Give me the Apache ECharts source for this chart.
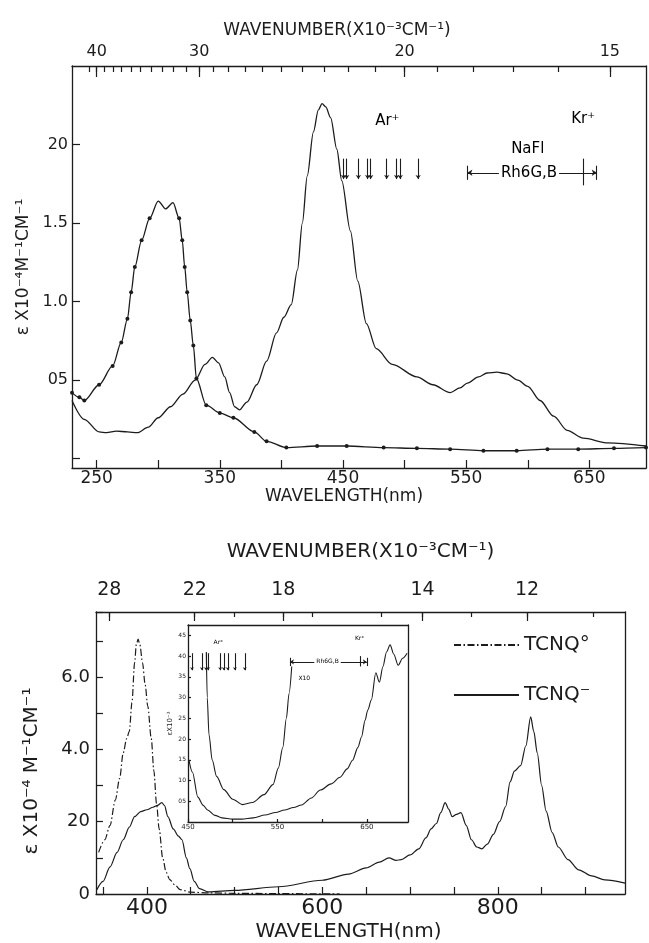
<!DOCTYPE html>
<html>
<head>
<meta charset="utf-8" />
<script src="https://cdn.jsdelivr.net/npm/echarts@6/dist/echarts.min.js"></script>
<style>
html, body { margin: 0; padding: 0; background: #fff; }
#chart { width: 649px; height: 943px; }
</style>
</head>
<body>
<div id="chart"></div>
<script>
// ---- upper panel (wavelength nm, epsilon x10^-4)
var topDotNm  = [230, 236, 240, 252, 263, 270, 275, 278, 281, 286.5, 293, 300, 306, 312, 317, 319.5, 321.5, 323.5, 326, 328.5, 331, 339, 350, 361, 378, 388, 404, 429, 453, 483, 510, 537, 564, 591, 616, 641, 670, 696];
var topDotVal = [0.42, 0.39, 0.37, 0.47, 0.59, 0.74, 0.89, 1.06, 1.22, 1.39, 1.53, 1.64, 1.59, 1.63, 1.53, 1.39, 1.22, 1.06, 0.88, 0.72, 0.51, 0.34, 0.29, 0.26, 0.17, 0.11, 0.07, 0.08, 0.08, 0.07, 0.065, 0.06, 0.05, 0.05, 0.06, 0.06, 0.065, 0.07];
var topSolidNm  = [230, 240, 252, 258, 266, 275, 283, 292, 300, 310, 320, 330, 338, 344, 349, 354, 358, 362, 366, 372, 380, 388, 396, 402, 408, 413, 417, 421, 426, 430, 433, 436, 440, 445, 449, 456, 462, 469, 477, 490, 510, 523, 537, 545, 551, 560, 567, 575, 583, 592, 600, 610, 621, 632, 645, 665, 696];
var topSolidVal = [0.37, 0.25, 0.17, 0.165, 0.175, 0.17, 0.165, 0.2, 0.26, 0.33, 0.41, 0.5, 0.6, 0.645, 0.61, 0.52, 0.42, 0.33, 0.31, 0.36, 0.47, 0.62, 0.8, 0.9, 0.98, 1.2, 1.5, 1.8, 2.08, 2.22, 2.26, 2.24, 2.17, 1.97, 1.77, 1.45, 1.13, 0.86, 0.7, 0.6, 0.52, 0.47, 0.42, 0.45, 0.48, 0.52, 0.545, 0.55, 0.54, 0.5, 0.46, 0.37, 0.27, 0.18, 0.13, 0.1, 0.08];
var topTickNm = [250, 300, 350, 400, 450, 500, 550, 600, 650];
var topLabelNm = [250, 350, 450, 550, 650];
var topYTicks = [0, 0.5, 1, 1.5, 2];
var topYLabelVals = [0.5, 1, 1.5, 2];
var topYLabelText = ['05', '1.0', '1.5', '20'];
var topWnMinor = [41, 40, 39, 38, 37, 36, 35, 34, 33, 32, 31, 30, 29, 28, 27, 26, 25, 24, 23, 22, 21, 20, 19, 18, 17, 16, 15];
var topWnMajor = [40, 30, 20, 15];
var topArNm = [450.5, 453, 462.5, 470, 472.5, 485.5, 493.5, 496.5, 511];
var topArY = [1.91, 1.78];
var topRh = [551, 656, 1.82];
var topKr = [645, 1.91, 1.74];
var topNotes = [[486, 2.15, 'Ar⁺'], [645, 2.16, 'Kr⁺'], [600, 1.97, 'NaFl'], [601, 1.82, 'Rh6G,B']];

// ---- lower panel
var botNeutralNm  = [345, 352, 358, 364, 369, 373, 377, 380, 383, 386, 388, 390, 392, 395, 398, 401, 405, 408, 411, 414, 418, 422, 426, 432, 438, 450, 470, 500, 550, 620];
var botNeutralVal = [1.15, 1.5, 1.9, 2.6, 3.2, 3.9, 4.3, 4.5, 5.3, 6.4, 6.9, 7.05, 6.9, 6.4, 5.8, 5.2, 4.3, 3.4, 2.5, 1.8, 1.0, 0.6, 0.4, 0.25, 0.12, 0.05, 0.03, 0.02, 0.01, 0.0];
var botAnionNm  = [343, 350, 358, 366, 373, 380, 386, 393, 400, 407, 412, 417, 420, 424, 430, 436, 440, 445, 449, 454, 460, 470, 500, 550, 600, 630, 650, 665, 676, 684, 690, 700, 710, 718, 724, 730, 735, 740, 744, 748, 753, 758, 764, 770, 776, 782, 788, 795, 802, 809, 814, 819, 826, 832, 837.5, 841, 845, 850, 855, 862, 869, 880, 892, 907, 922, 945];
var botAnionVal = [0.12, 0.35, 0.75, 1.15, 1.5, 1.85, 2.14, 2.28, 2.33, 2.4, 2.45, 2.53, 2.45, 2.14, 1.8, 1.6, 1.5, 1.0, 0.7, 0.35, 0.15, 0.06, 0.1, 0.2, 0.38, 0.55, 0.72, 0.88, 1.0, 0.93, 0.95, 1.08, 1.25, 1.55, 1.8, 1.95, 2.25, 2.53, 2.35, 2.14, 2.2, 2.25, 1.9, 1.5, 1.3, 1.25, 1.38, 1.65, 2.0, 2.42, 3.1, 3.4, 3.55, 4.1, 4.9, 4.5, 3.9, 3.0, 2.3, 1.7, 1.3, 0.95, 0.67, 0.5, 0.39, 0.3];
var botTickNm = [350, 400, 450, 500, 550, 600, 650, 700, 750, 800, 850, 900];
var botLabelNm = [400, 600, 800];
var botYLabelVals = [0, 2, 4, 6];
var botYLabelText = ['0', '20', '4.0', '6.0'];
var botWnMinor = [28, 22, 20, 18, 17, 15, 14, 13, 12, 11];
var botWnMajor = [28, 22, 18, 14, 12];

// ---- inset (epsilon x10^-3)
var insetX10Nm  = [470.5, 471.5, 473.5, 477, 482, 490, 500, 511, 522, 535, 545, 551, 556, 560, 563, 566];
var insetX10Val = [4.1, 3.0, 2.1, 1.5, 1.1, 0.78, 0.55, 0.42, 0.47, 0.66, 0.9, 1.3, 1.8, 2.5, 3.1, 3.75];
var insetNm  = [451, 455, 461, 467, 472, 480, 488, 500, 510, 523, 536, 548, 558, 568, 577, 588, 598, 610, 620, 628, 634, 640, 644, 648, 651, 655, 660, 664, 668, 672, 676, 680, 685, 690, 695];
var insetVal = [1.5, 1.2, 0.6, 0.4, 0.29, 0.16, 0.1, 0.07, 0.07, 0.1, 0.17, 0.23, 0.29, 0.35, 0.41, 0.58, 0.77, 0.92, 1.08, 1.28, 1.49, 1.8, 2.05, 2.45, 2.7, 2.94, 3.6, 3.37, 3.75, 4.1, 4.27, 4.05, 3.78, 3.95, 4.07];
var insetTickNm = [450, 500, 550, 600, 650];
var insetLabelNm = [450, 550, 650];
var insetYTicks = [0.5, 1, 1.5, 2, 2.5, 3, 3.5, 4, 4.5];
var insetArNm = [454.5, 465.5, 470, 472.5, 486, 490, 494.5, 502.5, 513.5];
var insetArY = [4.07, 3.66];
var insetRh = [564, 650, 3.86];
var insetKr = [643, 4.0, 3.75];
var insetNotes = [[484, 4.34, 'Ar⁺'], [642, 4.43, 'Kr⁺'], [606, 3.86, 'Rh6G,B'], [580, 3.47, 'X10']];

var INK = '#1c1c1c';
var FONT = 'DejaVu Sans';

function zip(xs, ys) {
  var out = [];
  for (var i = 0; i < xs.length; i++) out.push([xs[i], ys[i]]);
  return out;
}
function toNm(list) {
  return list.map(function(v) { return 10000 / v; });
}
function lookup(vals, texts) {
  return function(v) {
    for (var i = 0; i < vals.length; i++) if (Math.abs(vals[i] - v) < 1e-6) return texts[i];
    return '';
  };
}
function wnText(v) { return String(Math.round(10000 / v)); }

function axLine(show) {
  return { show: show, onZero: false, lineStyle: { color: INK, width: 1.3 } };
}
function ticks(values, len) {
  return { show: true, inside: true, length: len, customValues: values, lineStyle: { color: INK, width: 1.2 } };
}
function labels(values, fmt, size, margin) {
  return { show: true, customValues: values, formatter: fmt, fontSize: size, margin: margin, color: INK, fontFamily: FONT };
}
function nameStyle(size, padding) {
  return { fontSize: size, color: INK, fontFamily: FONT, padding: padding || 0 };
}
function plain(grid, pos, min, max, showLine) {
  return {
    type: 'value', gridIndex: grid, position: pos, min: min, max: max,
    axisLine: axLine(showLine), axisTick: { show: false }, axisLabel: { show: false }, splitLine: { show: false }
  };
}

// vertical marks (laser lines), range bar with end stops, Kr tick
function laserMarks(arNm, arY, rh, kr, barH, arrowSize) {
  var data = [];
  arNm.forEach(function(x) {
    data.push([{ coord: [x, arY[0]], symbol: 'none' }, { coord: [x, arY[1]], symbol: 'arrow', symbolSize: arrowSize }]);
  });
  data.push([{ coord: [rh[0], rh[2]], symbol: 'arrow', symbolSize: arrowSize + 1 }, { coord: [rh[1], rh[2]], symbol: 'arrow', symbolSize: arrowSize + 1 }]);
  data.push([{ coord: [rh[0], rh[2] + barH], symbol: 'none' }, { coord: [rh[0], rh[2] - barH], symbol: 'none' }]);
  data.push([{ coord: [rh[1], rh[2] + barH], symbol: 'none' }, { coord: [rh[1], rh[2] - barH], symbol: 'none' }]);
  data.push([{ coord: [kr[0], kr[1]], symbol: 'none' }, { coord: [kr[0], kr[2]], symbol: 'none' }]);
  return {
    silent: true, symbol: 'none', label: { show: false }, emphasis: { disabled: true },
    lineStyle: { color: INK, width: 1.1, type: 'solid' }, data: data
  };
}

function notes(xi, yi, list, size) {
  return {
    type: 'scatter', xAxisIndex: xi, yAxisIndex: yi, z: 10, silent: true,
    symbolSize: 1, itemStyle: { color: 'rgba(255,255,255,0)' }, data: list,
    label: {
      show: true, position: 'inside', color: '#000', opacity: 1, fontSize: size, fontFamily: FONT,
      textBorderWidth: 0, backgroundColor: '#fff', padding: [0, 2],
      formatter: function(p) { return p.data[2]; }
    }
  };
}

var chart = echarts.init(document.getElementById('chart'), null, { renderer: 'canvas' });

var option = {
  backgroundColor: '#fff',
  animation: false,
  grid: [
    { left: 72, top: 66, width: 574, height: 402, containLabel: false, outerBoundsMode: 'none' },
    { left: 72, top: 66, width: 574, height: 402, containLabel: false, outerBoundsMode: 'none' },
    { left: 96, top: 612, width: 529, height: 282, containLabel: false, outerBoundsMode: 'none' },
    { left: 96, top: 612, width: 529, height: 282, containLabel: false, outerBoundsMode: 'none' },
    { left: 188, top: 625, width: 220, height: 197, containLabel: false, outerBoundsMode: 'none' }
  ],
  xAxis: [
    // 0 upper wavelength
    {
      type: 'value', gridIndex: 0, position: 'bottom', min: 230, max: 696,
      axisLine: axLine(true), axisTick: ticks(topTickNm, 8),
      axisLabel: labels(topLabelNm, function(v) { return String(v); }, 17, 2),
      splitLine: { show: false },
      name: 'WAVELENGTH(nm)', nameLocation: 'middle', nameGap: 20, nameTextStyle: nameStyle(17, [0, 30, 0, 0])
    },
    // 1 upper wavenumber minor ticks + title
    {
      type: 'value', gridIndex: 0, position: 'top', min: 230, max: 696,
      axisLine: axLine(true), axisTick: ticks(toNm(topWnMinor), 6), axisLabel: { show: false },
      splitLine: { show: false },
      name: 'WAVENUMBER(X10⁻³CM⁻¹)', nameLocation: 'middle', nameGap: 27, nameTextStyle: nameStyle(17, [0, 44, 0, 0])
    },
    // 2 upper wavenumber labelled ticks
    {
      type: 'value', gridIndex: 1, position: 'top', min: 230, max: 696,
      axisLine: axLine(false), axisTick: ticks(toNm(topWnMajor), 11),
      axisLabel: labels(toNm(topWnMajor), wnText, 16, 6), splitLine: { show: false }
    },
    // 3 lower wavelength
    {
      type: 'value', gridIndex: 2, position: 'bottom', min: 342, max: 945,
      axisLine: axLine(true), axisTick: ticks(botTickNm, 7),
      axisLabel: labels(botLabelNm, function(v) { return String(v); }, 22, 3),
      splitLine: { show: false },
      name: 'WAVELENGTH(nm)', nameLocation: 'middle', nameGap: 28, nameTextStyle: nameStyle(20, [0, 24, 0, 0])
    },
    // 4 lower wavenumber minor ticks + title
    {
      type: 'value', gridIndex: 2, position: 'top', min: 342, max: 945,
      axisLine: axLine(true), axisTick: ticks(toNm(botWnMinor), 5), axisLabel: { show: false },
      splitLine: { show: false },
      name: 'WAVENUMBER(X10⁻³CM⁻¹)', nameLocation: 'middle', nameGap: 50, nameTextStyle: nameStyle(20)
    },
    // 5 lower wavenumber labelled ticks
    {
      type: 'value', gridIndex: 3, position: 'top', min: 342, max: 945,
      axisLine: axLine(false), axisTick: ticks(toNm(botWnMajor), 9),
      axisLabel: labels(toNm(botWnMajor), wnText, 19, 12), splitLine: { show: false }
    },
    // 6 inset bottom
    {
      type: 'value', gridIndex: 4, position: 'bottom', min: 450, max: 696,
      axisLine: axLine(true), axisTick: ticks(insetTickNm, 3),
      axisLabel: labels(insetLabelNm, function(v) { return String(v); }, 7, 2),
      splitLine: { show: false }
    },
    // 7 inset top frame
    plain(4, 'top', 450, 696, true)
  ],
  yAxis: [
    // 0 upper epsilon
    {
      type: 'value', gridIndex: 0, position: 'left', min: -0.06, max: 2.5,
      axisLine: axLine(true), axisTick: ticks(topYTicks, 8),
      axisLabel: labels(topYLabelVals, lookup(topYLabelVals, topYLabelText), 16, 4),
      splitLine: { show: false },
      name: 'ε X10⁻⁴M⁻¹CM⁻¹', nameLocation: 'middle', nameGap: 30, nameTextStyle: nameStyle(17)
    },
    plain(0, 'right', -0.06, 2.5, true),
    plain(1, 'left', -0.06, 2.5, false),
    // 3 lower epsilon
    {
      type: 'value', gridIndex: 2, position: 'left', min: 0, max: 7.8, interval: 1,
      axisLine: axLine(true),
      axisTick: { show: true, inside: true, length: 7, lineStyle: { color: INK, width: 1.2 } },
      axisLabel: labels(botYLabelVals, lookup(botYLabelVals, botYLabelText), 18, 6),
      splitLine: { show: false },
      name: 'ε X10⁻⁴ M⁻¹CM⁻¹', nameLocation: 'middle', nameGap: 54, nameTextStyle: nameStyle(20, [0, 36, 0, 0])
    },
    plain(2, 'right', 0, 7.8, true),
    plain(3, 'left', 0, 7.8, false),
    // 6 inset epsilon
    {
      type: 'value', gridIndex: 4, position: 'left', min: 0, max: 4.75,
      axisLine: axLine(true), axisTick: ticks(insetYTicks, 3),
      axisLabel: labels(insetYTicks, function(v) { return v.toFixed(1).replace('.', ''); }, 6, 2),
      splitLine: { show: false },
      name: 'εX10⁻³', nameLocation: 'middle', nameGap: 14, nameTextStyle: nameStyle(7)
    },
    plain(4, 'right', 0, 4.75, true)
  ],
  legend: {
    data: ['TCNQ°', 'TCNQ⁻'],
    orient: 'vertical', left: 453, top: 633, padding: 0,
    itemWidth: 65, itemHeight: 14, itemGap: 26,
    itemStyle: { color: 'rgba(0,0,0,0)', borderWidth: 0 },
    textStyle: { fontSize: 20, color: INK, fontFamily: FONT, lineHeight: 24 }
  },
  series: [
    {
      name: 'upper dotted', type: 'line', xAxisIndex: 0, yAxisIndex: 0,
      data: zip(topDotNm, topDotVal), smooth: 0.3, smoothMonotone: 'x',
      symbol: function(v) { return (v[0] > 296 && v[0] < 315) ? 'none' : 'circle'; },
      symbolSize: 4, showSymbol: true, showAllSymbol: true,
      itemStyle: { color: INK }, lineStyle: { color: INK, width: 1.3 }
    },
    {
      name: 'upper solid', type: 'line', xAxisIndex: 0, yAxisIndex: 0,
      data: zip(topSolidNm, topSolidVal), smooth: 0.3, smoothMonotone: 'x',
      symbol: 'none', lineStyle: { color: INK, width: 1.3 },
      markLine: laserMarks(topArNm, topArY, topRh, topKr, 0.045, 4)
    },
    notes(0, 0, topNotes, 15),
    {
      name: 'TCNQ°', type: 'line', xAxisIndex: 3, yAxisIndex: 3,
      data: zip(botNeutralNm, botNeutralVal), smooth: 0.3, smoothMonotone: 'x',
      symbol: 'none', itemStyle: { color: INK },
      lineStyle: { color: INK, width: 1.2, type: [7, 2.5, 1.5, 2.5] }
    },
    {
      name: 'TCNQ⁻', type: 'line', xAxisIndex: 3, yAxisIndex: 3,
      data: zip(botAnionNm, botAnionVal), smooth: 0.3, smoothMonotone: 'x',
      symbol: 'none', itemStyle: { color: INK },
      lineStyle: { color: INK, width: 1.2 }
    },
    {
      name: 'inset x10', type: 'line', xAxisIndex: 6, yAxisIndex: 6,
      data: zip(insetX10Nm, insetX10Val), smooth: 0.3, smoothMonotone: 'x',
      symbol: 'none', lineStyle: { color: INK, width: 1.1 }
    },
    {
      name: 'inset', type: 'line', xAxisIndex: 6, yAxisIndex: 6,
      data: zip(insetNm, insetVal), smooth: 0.3, smoothMonotone: 'x',
      symbol: 'none', lineStyle: { color: INK, width: 1.1 },
      markLine: laserMarks(insetArNm, insetArY, insetRh, insetKr, 0.1, 3)
    },
    notes(6, 6, insetNotes, 6)
  ]
};

chart.setOption(option);
</script>
</body>
</html>
